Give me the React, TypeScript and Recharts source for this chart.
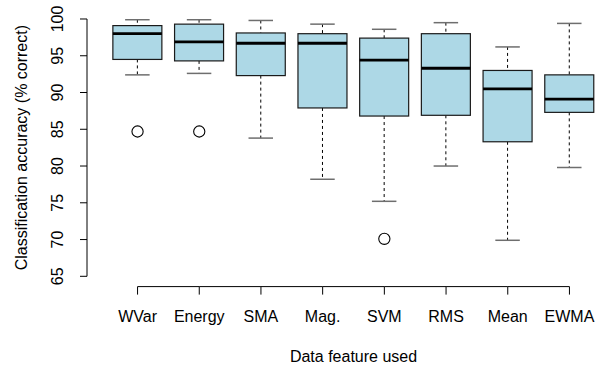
import React from 'react';
import { ComposedChart, Bar, Scatter, Line, XAxis, YAxis, Label } from 'recharts';

const categories = ['WVar', 'Energy', 'SMA', 'Mag.', 'SVM', 'RMS', 'Mean', 'EWMA'];
const whiskerLow = [92.4, 92.6, 83.8, 78.2, 75.2, 80.0, 69.9, 79.8];
const quartile1 = [94.5, 94.3, 92.3, 87.9, 86.8, 86.9, 83.3, 87.3];
const medians = [98.0, 96.9, 96.7, 96.7, 94.4, 93.3, 90.5, 89.1];
const quartile3 = [99.1, 99.3, 98.1, 98.0, 97.4, 98.0, 93.0, 92.4];
const whiskerHigh = [99.9, 99.9, 99.8, 99.3, 98.6, 99.5, 96.2, 99.4];
const outliers: (number | null)[] = [84.7, 84.7, null, null, 70.1, null, null, null];
const yTicks = [65, 70, 75, 80, 85, 90, 95, 100];

const yAxisTitle = 'Classification accuracy (% correct)';
const xAxisTitle = 'Data feature used';

const Y_MIN = 63.6;
const Y_MAX = 101.4;
const X_MIN = 0.18;
const X_MAX = 8.82;

const data = categories.map((name, i) => ({
  name,
  range: [whiskerLow[i], whiskerHigh[i]],
  low: whiskerLow[i],
  q1: quartile1[i],
  med: medians[i],
  q3: quartile3[i],
  high: whiskerHigh[i],
  outlier: outliers[i],
  base: Y_MIN,
}));

const yAxisLineData = [
  { ax: X_MIN, ay: yTicks[0] },
  { ax: X_MIN, ay: yTicks[yTicks.length - 1] },
];

const FONT = '"Liberation Sans", Arial, Helvetica, sans-serif';
const FS = 16;

const BoxShape = (props: any) => {
  const { x, y, width, height, payload } = props;
  if (x == null || y == null || !payload) return <g />;
  const top = Math.min(y, y + height);
  const h = Math.abs(height);
  const { low, high, q1, med, q3 } = payload;
  const toY = (v: number) => top + ((high - v) / (high - low)) * h;
  const cx = x + width / 2;
  const capHalf = width / 4;
  const yHigh = toY(high);
  const yLow = toY(low);
  const yQ1 = toY(q1);
  const yQ3 = toY(q3);
  const yMed = toY(med);
  return (
    <g>
      <line x1={cx} x2={cx} y1={yHigh} y2={yQ3} stroke="#000" strokeWidth={1} strokeDasharray="3 3" />
      <line x1={cx} x2={cx} y1={yQ1} y2={yLow} stroke="#000" strokeWidth={1} strokeDasharray="3 3" />
      <line x1={cx - capHalf} x2={cx + capHalf} y1={yHigh} y2={yHigh} stroke="#6e6e6e" strokeWidth={1.5} />
      <line x1={cx - capHalf} x2={cx + capHalf} y1={yLow} y2={yLow} stroke="#6e6e6e" strokeWidth={1.5} />
      <rect x={x} y={yQ3} width={width} height={yQ1 - yQ3} fill="#ADD8E6" stroke="#1a1a1a" strokeWidth={1.2} />
      <line x1={x} x2={x + width} y1={yMed} y2={yMed} stroke="#000" strokeWidth={2.8} />
    </g>
  );
};

const OutlierShape = (props: any) => {
  const { cx, cy, payload } = props;
  if (!payload || payload.outlier == null || cx == null || cy == null || isNaN(cy)) return <g />;
  return <circle cx={cx} cy={cy} r={5.6} fill="none" stroke="#000" strokeWidth={1.1} />;
};

const NoDot = () => <g />;

const XTick = (props: any) => {
  const { x, y, payload } = props;
  return (
    <text x={x} y={y + 20} textAnchor="middle" dominantBaseline="central" fontFamily={FONT} fontSize={FS} fill="#000">
      {payload.value}
    </text>
  );
};

const YTick = (props: any) => {
  const { x, y, payload } = props;
  const tx = x - 20.5;
  return (
    <text
      transform={`translate(${tx},${y}) rotate(-90)`}
      textAnchor="middle"
      dominantBaseline="central"
      fontFamily={FONT}
      fontSize={FS}
      fill="#000"
    >
      {payload.value}
    </text>
  );
};

export default function App() {
  return (
    <div style={{ position: 'absolute', left: 0, top: 0, width: 602, height: 367, overflow: 'hidden', background: '#fff' }}>
      <ComposedChart
        width={620}
        height={367}
        data={data}
        margin={{ top: 8.7, right: 0, left: 0, bottom: 30.4 }}
        barCategoryGap="10%"
      >
        <XAxis
          dataKey="name"
          type="category"
          interval={0}
          padding={{ left: 19.7, right: 19.7 }}
          axisLine={false}
          tickLine={{ stroke: '#000', strokeWidth: 1 }}
          tickSize={8}
          height={50}
          tick={<XTick />}
        >
          <Label
            content={(p: any) => {
              const vb = p.viewBox || {};
              return (
                <text
                  x={vb.x + vb.width / 2}
                  y={vb.y + 69.4}
                  textAnchor="middle"
                  dominantBaseline="central"
                  fontFamily={FONT}
                  fontSize={FS}
                  fill="#000"
                >
                  {xAxisTitle}
                </text>
              );
            }}
          />
        </XAxis>
        <XAxis xAxisId="num" dataKey="ax" type="number" domain={[X_MIN, X_MAX]} hide />
        <YAxis
          type="number"
          domain={[Y_MIN, Y_MAX]}
          ticks={yTicks}
          interval={0}
          width={87}
          axisLine={false}
          tickLine={{ stroke: '#000', strokeWidth: 1 }}
          tickSize={7}
          tick={<YTick />}
        >
          <Label
            content={(p: any) => {
              const vb = p.viewBox || {};
              const cy = vb.y + vb.height / 2;
              return (
                <text
                  transform={`translate(21,${cy}) rotate(-90)`}
                  textAnchor="middle"
                  dominantBaseline="central"
                  fontFamily={FONT}
                  fontSize={FS}
                  fill="#000"
                >
                  {yAxisTitle}
                </text>
              );
            }}
          />
        </YAxis>
        <Line
          dataKey="base"
          stroke="#000"
          strokeWidth={1}
          dot={false}
          activeDot={false}
          isAnimationActive={false}
        />
        <Scatter
          xAxisId="num"
          data={yAxisLineData}
          dataKey="ay"
          line={{ stroke: '#000', strokeWidth: 1 }}
          shape={<NoDot />}
          isAnimationActive={false}
        />
        <Bar dataKey="range" shape={<BoxShape />} isAnimationActive={false} />
        <Scatter dataKey="outlier" shape={<OutlierShape />} isAnimationActive={false} />
      </ComposedChart>
    </div>
  );
}
